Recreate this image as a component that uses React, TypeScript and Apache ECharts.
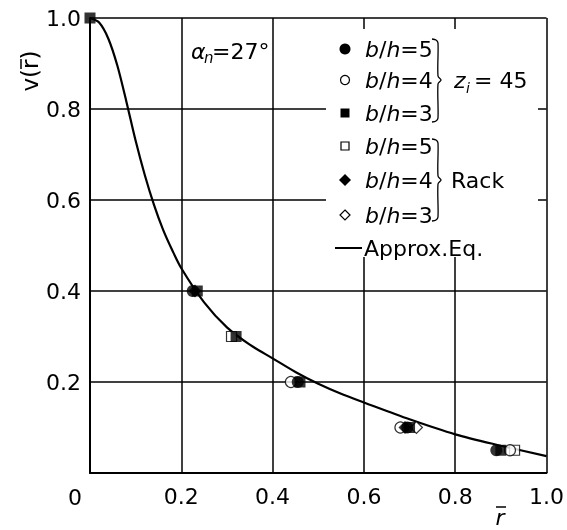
import React, { useEffect, useRef } from "react";
import * as echarts from "echarts";

// Approximate-equation curve
const curveR = [0, 0.02, 0.04, 0.06, 0.08, 0.10, 0.12, 0.14, 0.16, 0.18, 0.20, 0.25, 0.30, 0.35, 0.40, 0.45, 0.50, 0.55, 0.60, 0.70, 0.80, 0.90, 1.00];
const curveV = [1.0, 0.99, 0.955, 0.895, 0.815, 0.73, 0.655, 0.59, 0.535, 0.49, 0.45, 0.375, 0.32, 0.282, 0.252, 0.222, 0.196, 0.174, 0.155, 0.118, 0.085, 0.06, 0.037];

// z_i = 45 experiments
const zi45bh5R = [0.225, 0.455, 0.695, 0.89];
const zi45bh5V = [0.4, 0.2, 0.1, 0.05];
const zi45bh4R = [0.44, 0.68, 0.92];
const zi45bh4V = [0.2, 0.1, 0.05];
const zi45bh3R = [0.0, 0.235, 0.32, 0.46, 0.70, 0.90];
const zi45bh3V = [1.0, 0.4, 0.3, 0.2, 0.1, 0.05];
// Rack experiments
const rackbh5R = [0.31, 0.93];
const rackbh5V = [0.3, 0.05];
const rackbh4R = [0.23, 0.69];
const rackbh4V = [0.4, 0.1];
const rackbh3R = [0.715];
const rackbh3V = [0.1];

const xTicks = [0, 0.2, 0.4, 0.6, 0.8, 1.0];
const yTicks = [0, 0.2, 0.4, 0.6, 0.8, 1.0];

const FONT = "'DejaVu Sans', 'Liberation Sans', Arial, sans-serif";
const FS = 22;

const zip = (a: number[], b: number[]) => a.map((v, i) => [v, b[i]]);

export default function App() {
  const ref = useRef<HTMLDivElement>(null);
  useEffect(() => {
    if (!ref.current) return;
    const chart = echarts.init(ref.current, undefined, { renderer: "svg" });
    const open = { color: "#fff", borderColor: "#000", borderWidth: 1.2 };
    const filled = { color: "#000" };
    const legendText = (y: number, n: string) => ({
      type: "text",
      z: 20,
      style: {
        x: 365,
        y,
        text: `{i|b}{r|/}{i|h}{r|=${n}}`,
        verticalAlign: "middle",
        fill: "#000",
        rich: {
          i: { fontFamily: FONT, fontSize: FS, fontStyle: "italic", fill: "#000" },
          r: { fontFamily: FONT, fontSize: FS, fill: "#000" },
        },
      },
    });
    const brace = (top: number, mid: number, bot: number) => ({
      type: "polyline",
      z: 20,
      shape: {
        points: [
          [432, top], [436, top + 1], [438, top + 4], [438, mid - 4], [441, mid], [438, mid + 4], [438, bot - 4], [436, bot - 1], [432, bot],
        ],
        smooth: 0.3,
      },
      style: { stroke: "#000", lineWidth: 1.3, fill: null },
    });
    const tx = (x: number, y: number, text: string, fs: number, italic = false) => ({
      type: "text",
      z: 20,
      style: { x, y, text, fontFamily: FONT, fontSize: fs, fontStyle: italic ? "italic" : "normal", fill: "#000", verticalAlign: "middle" },
    });

    chart.setOption({
      animation: false,
      grid: { left: 90, right: 19, top: 18, bottom: 57, containLabel: false },
      xAxis: {
        type: "value",
        min: 0,
        max: 1,
        interval: 0.2,
        axisLine: { show: true, onZero: false, lineStyle: { color: "#000", width: 2 } },
        axisTick: { show: false },
        splitLine: { show: true, lineStyle: { color: "#000", width: 1.5 } },
        axisLabel: {
          margin: 12,
          color: "#000",
          fontFamily: FONT,
          fontSize: FS,
          formatter: (v: number) => (xTicks.includes(v) && v !== 0 ? v.toFixed(1) : ""),
        },
      },
      yAxis: {
        type: "value",
        min: 0,
        max: 1,
        interval: 0.2,
        axisLine: { show: true, onZero: false, lineStyle: { color: "#000", width: 2 } },
        axisTick: { show: false },
        splitLine: { show: true, lineStyle: { color: "#000", width: 1.5 } },
        axisLabel: {
          margin: 9,
          color: "#000",
          fontFamily: FONT,
          fontSize: FS,
          formatter: (v: number) => (yTicks.includes(v) && v !== 0 ? v.toFixed(1) : ""),
        },
      },
      series: [
        {
          name: "Approx.Eq.",
          type: "line",
          data: zip(curveR, curveV),
          smooth: 0.3,
          showSymbol: false,
          lineStyle: { color: "#000", width: 2.2 },
          z: 3,
        },
        { name: "Rack b/h=5", type: "scatter", symbol: "rect", symbolSize: 10, data: zip(rackbh5R, rackbh5V), itemStyle: open, z: 4 },
        { name: "Rack b/h=3", type: "scatter", symbol: "diamond", symbolSize: 12, data: zip(rackbh3R, rackbh3V), itemStyle: open, z: 4 },
        { name: "zi45 b/h=4", type: "scatter", symbol: "circle", symbolSize: 11, data: zip(zi45bh4R, zi45bh4V), itemStyle: open, z: 4 },
        { name: "zi45 b/h=5", type: "scatter", symbol: "circle", symbolSize: 12, data: zip(zi45bh5R, zi45bh5V), itemStyle: filled, z: 5 },
        { name: "Rack b/h=4", type: "scatter", symbol: "diamond", symbolSize: 13, data: zip(rackbh4R, rackbh4V), itemStyle: filled, z: 5 },
        { name: "zi45 b/h=3", type: "scatter", symbol: "rect", symbolSize: 11, data: zip(zi45bh3R, zi45bh3V), itemStyle: filled, z: 5 },
      ],
      graphic: [
        // legend background
        { type: "rect", z: 10, shape: { x: 326, y: 29, width: 212, height: 228 }, style: { fill: "#fff" } },
        // legend markers
        { type: "circle", z: 20, shape: { cx: 345, cy: 49, r: 5.5 }, style: { fill: "#000" } },
        { type: "circle", z: 20, shape: { cx: 345, cy: 80, r: 4.5 }, style: { fill: "#fff", stroke: "#000", lineWidth: 1.2 } },
        { type: "rect", z: 20, shape: { x: 340.5, y: 108.5, width: 9, height: 9 }, style: { fill: "#000" } },
        { type: "rect", z: 20, shape: { x: 341, y: 142, width: 8, height: 8 }, style: { fill: "#fff", stroke: "#000", lineWidth: 1.2 } },
        { type: "polygon", z: 20, shape: { points: [[345, 174], [351, 180], [345, 186], [339, 180]] }, style: { fill: "#000" } },
        { type: "polygon", z: 20, shape: { points: [[345, 210], [350, 215], [345, 220], [340, 215]] }, style: { fill: "#fff", stroke: "#000", lineWidth: 1.2 } },
        { type: "line", z: 20, shape: { x1: 335, y1: 248, x2: 362, y2: 248 }, style: { stroke: "#000", lineWidth: 2 } },
        legendText(49, "5"),
        legendText(80, "4"),
        legendText(113, "3"),
        legendText(146, "5"),
        legendText(180, "4"),
        legendText(215, "3"),
        tx(364, 248, "Approx.Eq.", FS),
        brace(39, 80, 122),
        brace(139, 180, 221),
        tx(454, 80, "z", FS, true),
        tx(466, 88, "i", 14, true),
        tx(474, 80, "= 45", FS),
        tx(451, 180, "Rack", FS),
        // alpha_n = 27°
        tx(191, 51, "α", FS, true),
        tx(204, 58, "n", 15, true),
        tx(212, 51, "=27°", FS),
        // corner "0"
        { type: "text", z: 20, style: { x: 75, y: 497, text: "0", fontFamily: FONT, fontSize: FS, fill: "#000", align: "center", verticalAlign: "middle" } },
        // x-axis name r̄
        { type: "text", z: 20, style: { x: 500, y: 517, text: "r", fontFamily: FONT, fontSize: FS, fontStyle: "italic", fill: "#000", align: "center", verticalAlign: "middle" } },
        { type: "line", z: 20, shape: { x1: 496, y1: 507, x2: 506, y2: 507 }, style: { stroke: "#000", lineWidth: 1.5 } },
        // y-axis name v(r̄), rotated
        {
          type: "group",
          x: 30,
          y: 71,
          rotation: Math.PI / 2,
          children: [
            { type: "text", z: 20, style: { x: 0, y: 0, text: "v(r)", fontFamily: FONT, fontSize: 23, fill: "#000", align: "center", verticalAlign: "middle" } },
            { type: "line", z: 20, shape: { x1: 2, y1: -9, x2: 12, y2: -9 }, style: { stroke: "#000", lineWidth: 1.5 } },
          ],
        },
      ],
    });
    return () => chart.dispose();
  }, []);
  return <div ref={ref} style={{ width: 567, height: 530, position: "fixed", left: 0, top: 0 }} />;
}
